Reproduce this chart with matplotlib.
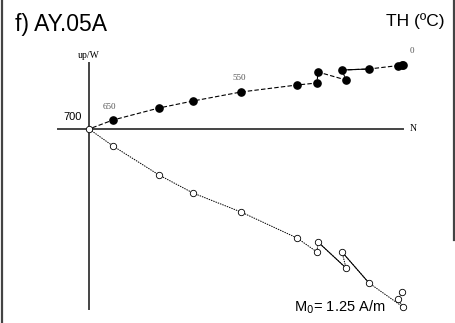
import matplotlib.pyplot as plt

# Zijderveld diagram, sample AY.05A, thermal demagnetization
# components in arbitrary units (N, up/W on the horizontal plane, down on the vertical plane)
steps = ["0", "", "", "", "", "", "", "", "", "550", "", "", "650", "700"]
north = [3.13, 3.09, 3.14, 2.80, 2.53, 2.57, 2.29, 2.28, 2.08, 1.52, 1.04, 0.70, 0.24, 0.0]
west = [0.64, 0.63, 0.64, 0.60, 0.59, 0.49, 0.57, 0.46, 0.44, 0.37, 0.28, 0.21, 0.09, 0.0]
down = [1.63, 1.70, 1.78, 1.54, 1.23, 1.39, 1.13, 1.23, 1.09, 0.83, 0.64, 0.46, 0.17, 0.0]

# segments drawn as solid lines (index of first point)
solid_h = [3]
solid_v = [3, 5]

# label offsets for the temperature steps
label_dx = {"0": 0.10, "550": -0.02, "650": -0.04}
label_dy = {"0": 0.14, "550": 0.14, "650": 0.13}

fig = plt.figure(figsize=(4.56, 3.23), dpi=100)
ax = fig.add_axes([0, 0, 1, 1])
ax.set_xlim(-0.89, 3.67)
ax.set_ylim(-1.94, 1.29)
ax.axis("off")

# frame lines
ax.plot([-0.875, -0.875], [-1.94, 1.29], color="#444444", lw=1.6)
ax.plot([3.65, 3.65], [-1.11, 1.29], color="#444444", lw=1.6)

# axes of the diagram
ax.plot([0, 0], [-1.80, 0.66], color="#444444", lw=1.4, zorder=1)
ax.plot([-0.31, 3.14], [0, 0], color="#444444", lw=1.4, zorder=1)

up = [-d for d in down]

# horizontal projection
ax.plot(north, west, color="black", lw=0.8, ls=(0, (4, 2)), zorder=2)
for i in solid_h:
    ax.plot(north[i:i + 2], west[i:i + 2], color="black", lw=0.8, zorder=2)
ax.plot(north[:-1], west[:-1], "o", ms=5.2, mfc="black", mec="black", zorder=3)

# vertical projection
ax.plot(north, up, color="black", lw=0.7, ls=(0, (1.5, 1)), zorder=2)
for i in solid_v:
    ax.plot(north[i:i + 2], up[i:i + 2], color="black", lw=0.7, zorder=2)
ax.plot(north, up, "o", ms=4.6, mfc="white", mec="black", mew=0.6, zorder=3)

# step labels
serif = "Liberation Serif"
for lab, x, y in zip(steps, north, west):
    if lab in label_dx:
        ax.text(x + label_dx[lab], y + label_dy[lab], lab, fontsize=6.5, family=serif,
                color="#555555", ha="center", va="center")
ax.text(-0.16, 0.12, "700", fontsize=8, family="Liberation Sans", ha="center", va="center")

ax.text(0.0, 0.74, "up/W", fontsize=7, family=serif, ha="center", va="center")
ax.text(3.24, 0.0, "N", fontsize=7, family=serif, ha="center", va="center")

ax.text(-0.74, 1.05, "f) AY.05A", fontsize=16.5, family="Liberation Sans", ha="left", va="center")
ax.text(3.56, 1.08, "TH (ºC)", fontsize=12.5, family="Liberation Sans", ha="right", va="center")
ax.text(2.97, -1.78, "M$_0$= 1.25 A/m", fontsize=10.5, family="Liberation Sans",
        ha="right", va="center", math_fontfamily="dejavusans")

fig.savefig("out.png", dpi=100)
